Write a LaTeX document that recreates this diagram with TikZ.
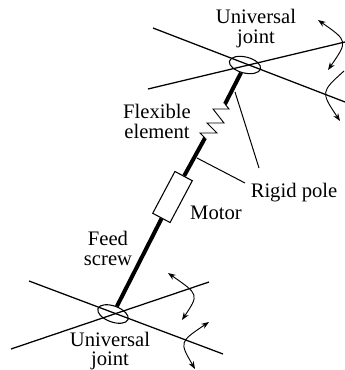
\documentclass[tikz,border=0pt]{standalone}
\usepackage{fontspec}
\setmainfont{Liberation Serif}
\usetikzlibrary{positioning,arrows.meta,shapes.geometric}
\tikzset{
  lbl/.style={align=center,inner sep=0pt,font=\fontsize{17.6}{17}\selectfont},
  axisline/.style={line width=0.38mm},
  rod/.style={line width=1.2mm},
  leader/.style={line width=0.3mm},
  swing/.style={<->,line width=0.28mm},
  joint/.style={draw,ellipse,line width=0.32mm,minimum width=9.6mm,minimum height=4.8mm,inner sep=0pt}
}
\begin{document}
\begin{tikzpicture}[x=0.3mm,y=-0.3mm,>={Stealth[length=2.3mm,width=1.7mm]}]
\useasboundingbox (0,0) rectangle (345,370);
% top cross
\coordinate (ta1) at (153,28);
\coordinate (ta2) at (345,102);
\coordinate (tb1) at (148,89);
\coordinate (tb2) at (345,42);
\draw[axisline] (ta1) -- (ta2);
\draw[axisline] (tb1) -- (tb2);
\node[joint,rotate=-14] (jointT) at (245,65) {};
% bottom cross
\coordinate (ba1) at (29,281);
\coordinate (ba2) at (223,354);
\coordinate (bb1) at (11,349);
\coordinate (bb2) at (209,282);
\draw[axisline] (ba1) -- (ba2);
\draw[axisline] (bb1) -- (bb2);
\node[joint,rotate=-20] (jointB) at (113,314) {};
% motor and rods
\node[draw,line width=0.32mm,rotate=62,minimum width=14.2mm,minimum height=5.9mm,inner sep=0pt] (motor) at (172.5,197) {};
\coordinate (s0) at (205,138);
\coordinate (s1) at (225,104);
\draw[rod] (jointB) -- (motor);
\draw[rod] (motor) -- (s0);
\draw[rod] (s1) -- (jointT);
\draw[line width=0.28mm] (s0) -- (200,133) -- (217,133) -- (207,123) -- (224,123) -- (213,109) -- (229,109) -- (s1);
% labels
\node[lbl] (uniT) at (256,29) {Universal\\joint};
\node[lbl] (flex) at (157,121) {Flexible\\element};
\node[lbl] (rigid) at (294,193) {Rigid pole};
\node[lbl] (mot) at (216,213) {Motor};
\node[lbl] (feed) at (108,248) {Feed\\screw};
\node[lbl] (uniB) at (110,351) {Universal\\joint};
% leaders
\coordinate (p1) at (235,92);
\coordinate (p2) at (197,158);
\coordinate (q1) at (259,168);
\coordinate (q2) at (245,183);
\draw[leader] (p1) -- (q1);
\draw[leader] (p2) -- (q2);
% rotation arrows
\coordinate (a1) at (318,20);
\coordinate (a2) at (328,70);
\coordinate (a3) at (344,71);
\coordinate (a4) at (340,121);
\coordinate (a5) at (168,273);
\coordinate (a6) at (182,320);
\coordinate (a7) at (209,322);
\coordinate (a8) at (195,369);
\draw[swing] (a1) .. controls (348,41) .. (a2);
\draw[swing,-{Stealth[length=2.3mm,width=1.7mm]}] (a3) .. controls (320.7,92) .. (a4);
\draw[swing] (a5) .. controls (199,294.5) .. (a6);
\draw[swing] (a7) .. controls (179.3,342) .. (a8);
\end{tikzpicture}
\end{document}
